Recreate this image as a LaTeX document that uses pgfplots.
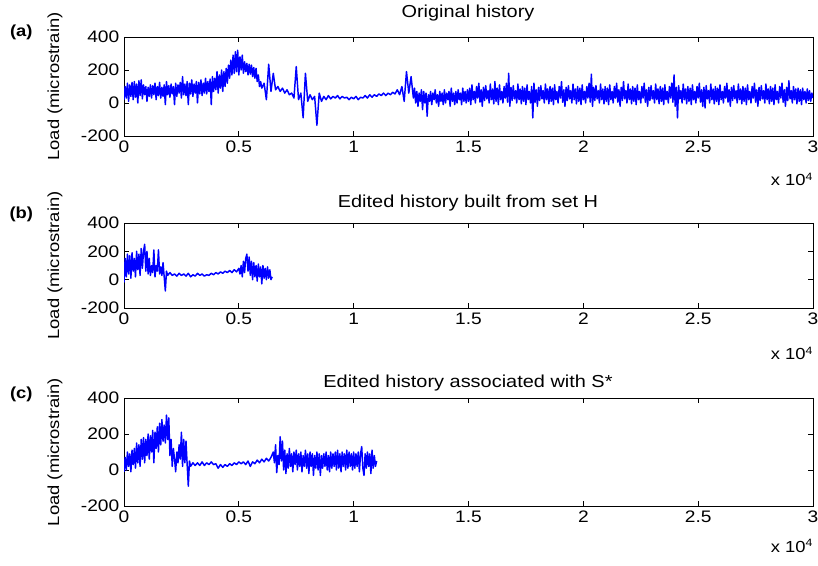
\documentclass[border=0pt]{standalone}
\usepackage{fontspec}
\setmainfont{Liberation Sans}[FakeStretch=1.15]
\usepackage{pgfplots}
\pgfplotsset{compat=1.18}

\pgfplotsset{
  panel/.style={
    scale only axis,
    anchor=north west,
    width=516.75pt,
    xmin=0, xmax=3, ymin=-200, ymax=400,
    xtick={0,0.5,1,1.5,2,2.5,3},
    xticklabels={0,0.5,1,1.5,2,2.5,3},
    ytick={-200,0,200,400},
    yticklabels={-200,0,200,400},
    tick align=inside,
    major tick length=4pt,
    no markers,
    axis line style={line width=0.6pt},
    tick style={black, line width=0.6pt},
    tick label style={font=\fontsize{12.5}{14}\selectfont},
  },
  sig/.style={blue, line width=1.1pt, line join=round, mark=none},
}

\begin{document}
\begin{tikzpicture}
\useasboundingbox (0,0) rectangle (613.5pt,-424.5pt);

% (a) original history
\begin{axis}[panel, at={(93pt,-27.75pt)}, height=74.25pt]
\addplot[sig] coordinates {
(0,20)(0.005,100)(0.01,30)(0.015,120)(0.02,10)(0.025,110)(0.03,40)(0.035,125)(0.04,20)(0.045,130)
(0.05,35)(0.055,115)(0.06,0)(0.065,135)(0.07,45)(0.075,140)(0.08,25)(0.085,110)(0.09,50)(0.095,100)
(0.1,10)(0.105,95)(0.11,40)(0.115,110)(0.12,30)(0.125,105)(0.13,50)(0.135,120)(0.14,20)(0.145,100)
(0.15,45)(0.155,125)(0.16,30)(0.165,95)(0.17,40)(0.175,110)(0.18,-10)(0.185,130)(0.19,50)(0.195,105)
(0.2,35)(0.205,115)(0.21,55)(0.215,100)(0.22,-10)(0.225,120)(0.23,40)(0.235,110)(0.24,60)(0.245,125)
(0.25,30)(0.255,160)(0.26,50)(0.265,115)(0.27,45)(0.275,130)(0.28,-10)(0.285,120)(0.29,55)(0.295,140)
(0.3,40)(0.305,115)(0.31,60)(0.315,130)(0.32,0)(0.325,125)(0.33,55)(0.335,140)(0.34,45)(0.345,120)
(0.35,60)(0.355,150)(0.36,55)(0.365,130)(0.37,70)(0.375,145)(0.38,-10)(0.385,160)(0.39,70)(0.395,150)
(0.4,80)(0.405,190)(0.41,60)(0.415,170)(0.42,90)(0.425,200)(0.43,70)(0.435,190)(0.44,100)(0.445,210)
(0.45,120)(0.455,230)(0.46,150)(0.465,260)(0.47,170)(0.475,290)(0.48,180)(0.485,310)(0.49,190)(0.495,320)
(0.5,170)(0.505,280)(0.51,200)(0.515,290)(0.52,180)(0.525,250)(0.53,190)(0.535,240)(0.54,170)(0.545,235)
(0.55,175)(0.555,230)(0.56,160)(0.565,215)(0.57,150)(0.575,210)(0.58,130)(0.585,170)(0.59,100)(0.595,130)
(0.6,90)(0.61,120)(0.62,20)(0.63,235)(0.64,70)(0.65,180)(0.66,80)(0.67,100)(0.68,70)(0.69,90)
(0.7,60)(0.71,80)(0.72,50)(0.73,60)(0.74,30)(0.75,220)(0.76,20)(0.77,60)(0.78,-90)(0.79,180)
(0.8,10)(0.81,50)(0.82,20)(0.83,40)(0.84,-135)(0.85,60)(0.86,10)(0.87,40)(0.88,20)(0.89,45)
(0.9,25)(0.91,40)(0.92,30)(0.93,45)(0.94,25)(0.95,40)(0.96,30)(0.97,35)(0.98,20)(0.99,35)
(1,25)(1.01,40)(1.02,20)(1.03,35)(1.04,30)(1.05,45)(1.06,30)(1.07,50)(1.08,35)(1.09,50)
(1.1,40)(1.11,55)(1.12,45)(1.13,60)(1.14,45)(1.15,60)(1.16,50)(1.17,65)(1.18,55)(1.19,80)
(1.2,50)(1.21,100)(1.22,10)(1.23,190)(1.24,60)(1.25,160)(1.26,30)
(1.265,90)(1.27,0)(1.275,70)(1.28,-20)(1.285,60)(1.29,10)(1.295,80)(1.3,-40)(1.305,70)(1.31,0)
(1.315,60)(1.32,-80)(1.325,50)(1.33,10)(1.335,70)(1.34,-10)(1.345,60)(1.35,20)(1.355,80)(1.36,0)
(1.365,50)(1.37,-20)(1.375,70)(1.38,10)(1.385,60)(1.39,-10)(1.395,80)(1.4,0)(1.405,60)(1.41,20)
(1.415,70)(1.42,-20)(1.425,90)(1.43,10)(1.435,60)(1.44,-10)(1.445,70)(1.45,0)(1.455,80)(1.46,20)
(1.465,60)(1.47,-10)(1.475,90)(1.48,10)(1.485,70)(1.49,0)(1.495,80)
(1.5,10)(1.505,90)(1.51,-10)(1.515,110)(1.52,20)(1.525,70)(1.53,0)(1.535,100)(1.54,30)(1.545,120)
(1.55,5)(1.555,80)(1.56,-20)(1.565,95)(1.57,15)(1.575,105)(1.58,25)(1.585,75)(1.59,0)(1.595,115)
(1.6,20)(1.605,85)(1.61,-5)(1.615,130)(1.62,10)(1.625,90)(1.63,-10)(1.635,110)(1.64,20)(1.645,70)
(1.65,0)(1.655,100)(1.66,30)(1.665,120)(1.67,5)(1.675,180)(1.68,-20)(1.685,95)(1.69,15)(1.695,105)
(1.7,25)(1.705,75)(1.71,0)(1.715,115)(1.72,20)(1.725,85)(1.73,-5)(1.735,100)(1.74,10)(1.745,90)
(1.75,-10)(1.755,110)(1.76,20)(1.765,70)(1.77,0)(1.775,100)(1.78,-90)(1.785,120)(1.79,5)(1.795,80)
(1.8,-20)(1.805,95)(1.81,15)(1.815,105)(1.82,25)(1.825,75)(1.83,0)(1.835,115)(1.84,20)(1.845,85)
(1.85,-5)(1.855,100)(1.86,10)(1.865,90)(1.87,-10)(1.875,110)(1.88,20)(1.885,70)(1.89,0)(1.895,100)
(1.9,30)(1.905,130)(1.91,5)(1.915,80)(1.92,-20)(1.925,95)(1.93,15)(1.935,105)(1.94,25)(1.945,75)
(1.95,0)(1.955,115)(1.96,20)(1.965,85)(1.97,-5)(1.975,100)(1.98,10)(1.985,90)(1.99,-10)(1.995,110)
(2,20)(2.005,70)(2.01,0)(2.015,100)(2.02,30)(2.025,120)(2.03,5)(2.035,175)(2.04,-20)(2.045,95)
(2.05,15)(2.055,105)(2.06,25)(2.065,75)(2.07,0)(2.075,115)(2.08,20)(2.085,85)(2.09,-5)(2.095,100)
(2.1,10)(2.105,90)(2.11,-10)(2.115,110)(2.12,20)(2.125,70)(2.13,0)(2.135,100)(2.14,30)(2.145,120)
(2.15,5)(2.155,80)(2.16,-20)(2.165,95)(2.17,15)(2.175,130)(2.18,25)(2.185,75)(2.19,0)(2.195,115)
(2.2,20)(2.205,85)(2.21,-5)(2.215,100)(2.22,10)(2.225,90)(2.23,-10)(2.235,110)(2.24,20)(2.245,70)
(2.25,0)(2.255,100)(2.26,30)(2.265,120)(2.27,5)(2.275,80)(2.28,-20)(2.285,95)(2.29,15)(2.295,105)
(2.3,25)(2.305,75)(2.31,0)(2.315,115)(2.32,20)(2.325,85)(2.33,-5)(2.335,100)(2.34,10)(2.345,90)
(2.35,-10)(2.355,110)(2.36,20)(2.365,70)(2.37,0)(2.375,100)(2.38,30)(2.385,120)(2.39,5)(2.395,170)
(2.4,-20)(2.405,95)(2.41,-90)(2.415,105)(2.42,25)(2.425,75)(2.43,0)(2.435,115)(2.44,20)(2.445,85)
(2.45,-5)(2.455,100)(2.46,10)(2.465,90)(2.47,-10)(2.475,110)(2.48,20)(2.485,70)(2.49,0)(2.495,100)
(2.5,30)(2.505,120)(2.51,5)(2.515,80)(2.52,-20)(2.525,95)(2.53,-30)(2.535,105)(2.54,25)(2.545,75)
(2.55,0)(2.555,115)(2.56,20)(2.565,85)(2.57,-5)(2.575,100)(2.58,10)(2.585,90)(2.59,-10)(2.595,110)
(2.6,20)(2.605,70)(2.61,0)(2.615,100)(2.62,30)(2.625,120)(2.63,5)(2.635,80)(2.64,-20)(2.645,95)
(2.65,15)(2.655,105)(2.66,25)(2.665,75)(2.67,0)(2.675,115)(2.68,20)(2.685,85)(2.69,-5)(2.695,100)
(2.7,10)(2.705,90)(2.71,-10)(2.715,110)(2.72,20)(2.725,70)(2.73,0)(2.735,100)(2.74,30)(2.745,120)
(2.75,5)(2.755,80)(2.76,-20)(2.765,95)(2.77,15)(2.775,105)(2.78,25)(2.785,75)(2.79,0)(2.795,115)
(2.8,20)(2.805,85)(2.81,-5)(2.815,100)(2.82,10)(2.825,90)(2.83,-10)(2.835,110)(2.84,20)(2.845,70)
(2.85,0)(2.855,100)(2.86,30)(2.865,120)(2.87,5)(2.875,80)(2.88,-20)(2.885,95)(2.89,15)(2.895,135)
(2.9,25)(2.905,75)(2.91,0)(2.915,100)(2.92,20)(2.925,85)(2.93,-5)(2.935,90)(2.94,10)(2.945,80)
(2.95,-10)(2.955,90)(2.96,20)(2.965,70)(2.97,0)(2.975,85)(2.98,15)(2.985,75)(2.99,10)(2.995,60)(3,30)
};
\end{axis}

% (b) edited history built from set H
\begin{axis}[panel, at={(93pt,-167.25pt)}, height=63.75pt]
\addplot[sig] coordinates {
(0,-20)(0.005,150)(0.01,20)(0.015,180)(0.02,40)(0.025,170)(0.03,10)(0.035,190)(0.04,60)(0.045,150)
(0.05,20)(0.055,200)(0.06,70)(0.065,180)(0.07,30)(0.075,220)(0.08,80)(0.085,200)(0.09,250)(0.095,60)
(0.1,200)(0.105,40)(0.11,150)(0.115,30)(0.12,100)(0.125,50)(0.13,210)(0.135,20)(0.14,100)(0.145,60)
(0.15,210)(0.155,40)(0.16,90)(0.165,30)(0.17,120)(0.175,20)(0.18,-80)(0.185,60)(0.19,30)(0.2,50)
(0.21,30)(0.22,40)(0.23,25)(0.24,45)(0.25,30)(0.26,40)(0.27,25)(0.28,45)(0.29,20)(0.3,35)
(0.31,25)(0.32,45)(0.33,30)(0.34,40)(0.35,25)(0.36,35)(0.37,30)(0.38,45)(0.39,35)(0.4,50)
(0.41,40)(0.42,55)(0.43,45)(0.44,60)(0.45,50)(0.46,65)(0.47,50)(0.48,70)(0.49,55)(0.5,80)
(0.505,40)(0.51,100)(0.515,20)(0.52,130)(0.525,50)(0.53,150)(0.535,180)(0.54,60)(0.545,160)(0.55,30)
(0.555,130)(0.56,0)(0.565,120)(0.57,20)(0.575,100)(0.58,-10)(0.585,110)(0.59,20)(0.595,90)(0.6,-30)
(0.605,100)(0.61,10)(0.615,80)(0.62,0)(0.625,90)(0.63,10)(0.635,70)(0.64,0)(0.645,20)
};
\end{axis}

% (c) edited history associated with S*
\begin{axis}[panel, at={(93pt,-298.5pt)}, height=81pt]
\addplot[sig] coordinates {
(0,-10)(0.005,70)(0.01,0)(0.015,100)(0.02,20)(0.025,90)(0.03,-10)(0.035,110)(0.04,30)(0.045,120)
(0.05,10)(0.055,150)(0.06,40)(0.065,140)(0.07,20)(0.075,170)(0.08,60)(0.085,180)(0.09,40)(0.095,170)
(0.1,80)(0.105,200)(0.11,60)(0.115,190)(0.12,100)(0.125,220)(0.13,40)(0.135,210)(0.14,120)(0.145,240)
(0.15,100)(0.155,260)(0.16,140)(0.165,280)(0.17,160)(0.175,250)(0.18,150)(0.185,305)(0.19,170)(0.195,290)
(0.2,80)(0.205,170)(0.21,20)(0.215,120)(0.22,60)(0.225,-10)(0.23,100)(0.235,40)(0.24,140)(0.245,60)
(0.25,210)(0.255,20)(0.26,170)(0.265,40)(0.27,160)(0.275,30)(0.28,-90)(0.285,50)(0.29,20)(0.3,40)
(0.31,25)(0.32,40)(0.33,25)(0.34,45)(0.35,25)(0.36,40)(0.37,30)(0.38,45)(0.39,30)(0.4,35)
(0.41,10)(0.42,30)(0.43,15)(0.44,30)(0.45,20)(0.46,35)(0.47,25)(0.48,40)(0.49,30)(0.5,45)
(0.51,35)(0.52,45)(0.53,30)(0.54,50)(0.55,20)(0.56,45)(0.57,35)(0.58,55)(0.59,40)(0.6,60)
(0.61,45)(0.62,65)(0.63,50)(0.64,70)(0.65,100)(0.655,40)(0.66,140)(0.665,-15)(0.67,80)(0.675,30)
(0.68,185)(0.685,50)(0.69,160)(0.695,0)(0.7,110)(0.705,-20)(0.71,90)(0.715,10)(0.72,120)(0.725,20)
(0.73,90)(0.735,-10)(0.74,100)(0.745,30)(0.75,110)(0.755,0)(0.76,90)(0.765,20)(0.77,100)(0.775,-10)
(0.78,80)(0.785,20)(0.79,110)(0.795,10)(0.8,90)(0.805,-20)(0.81,100)(0.815,20)(0.82,90)(0.825,-30)
(0.83,80)(0.835,10)(0.84,100)(0.845,0)(0.85,90)(0.855,-30)(0.86,80)(0.865,10)(0.87,90)(0.875,20)
(0.88,100)(0.885,0)(0.89,80)(0.895,-10)(0.9,100)(0.905,10)(0.91,90)(0.915,20)(0.92,100)(0.925,0)
(0.93,110)(0.935,10)(0.94,90)(0.945,-10)(0.95,100)(0.955,20)(0.96,90)(0.965,0)(0.97,110)(0.975,10)
(0.98,100)(0.985,20)(0.99,90)(0.995,0)(1,100)(1.005,10)(1.01,90)(1.015,20)(1.02,100)(1.025,-10)
(1.03,90)(1.035,130)(1.04,10)(1.045,-30)(1.05,90)(1.055,10)(1.06,100)(1.065,20)(1.07,90)(1.075,-20)
(1.08,110)(1.085,10)(1.09,80)(1.095,20)(1.1,50)
};
\end{axis}

% titles, labels and multipliers
\begin{scope}[every node/.style={font=\fontsize{13}{15}\selectfont, inner sep=0pt}]
\node at (351pt,-9.75pt) {Original history};
\node at (351pt,-152.25pt) {Edited history built from set H};
\node at (351pt,-287.25pt) {Edited history associated with S*};
\end{scope}
\begin{scope}[every node/.style={font=\fontsize{12}{14}\selectfont, inner sep=0pt, rotate=90}]
\node at (41.25pt,-64.9pt) {Load (microstrain)};
\node at (41.25pt,-199.1pt) {Load (microstrain)};
\node at (41.25pt,-339pt) {Load (microstrain)};
\end{scope}
\begin{scope}[every node/.style={font=\bfseries\fontsize{12}{14}\selectfont, inner sep=0pt}]
\node at (16pt,-24.5pt) {(a)};
\node at (16pt,-161pt) {(b)};
\node at (16pt,-296pt) {(c)};
\end{scope}
\begin{scope}[every node/.style={font=\fontsize{12}{14}\selectfont, inner sep=0pt, anchor=base east}]
\node at (610pt,-139.5pt) {x 10\textsuperscript{4}};
\node at (610pt,-270pt) {x 10\textsuperscript{4}};
\node at (610pt,-414.5pt) {x 10\textsuperscript{4}};
\end{scope}
\end{tikzpicture}
\end{document}
